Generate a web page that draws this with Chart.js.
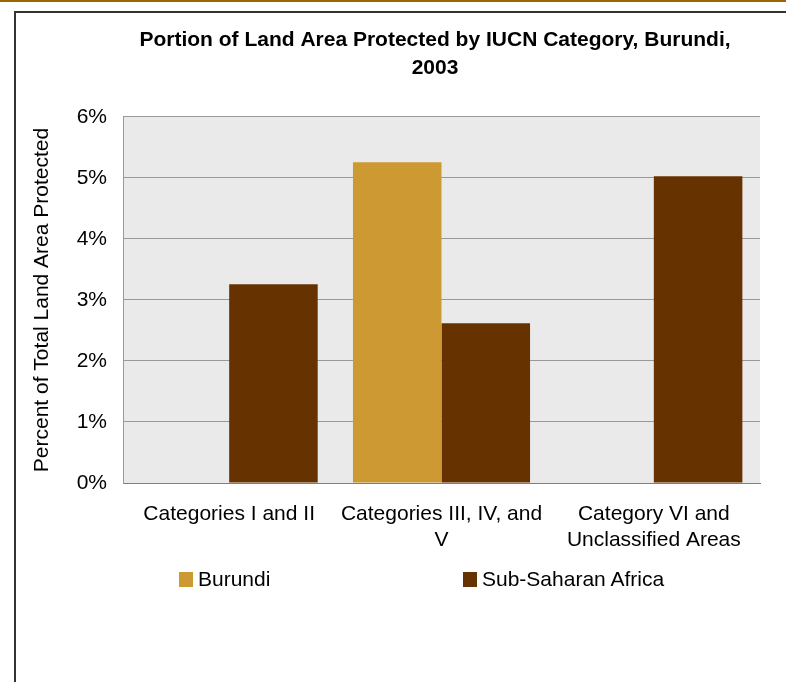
<!DOCTYPE html>
<html>
<head>
<meta charset="utf-8">
<script src="https://cdn.jsdelivr.net/npm/chart.js@4/dist/chart.umd.min.js"></script>
<style>
  html, body { margin: 0; padding: 0; background: #fff; overflow: hidden; }
  #topline { position: absolute; left: 0; top: 0; width: 786px; height: 2px; background: #996600; }
  #frame { position: absolute; left: 14px; top: 11px; width: 770px; height: 669px;
           border-left: 2px solid #333; border-top: 2px solid #333; }
  #frame canvas { position: absolute; left: 0; top: 0; }
  #legend { position: absolute; left: 179px; top: 567px; display: flex;
            font: 21px 'Liberation Sans', Arial, sans-serif; color: #000; }
  #legend .item { display: flex; align-items: center; height: 24px; }
  #legend .item:first-child { width: 284px; }
  #legend .box { width: 14px; height: 15px; margin-right: 5px; }
</style>
</head>
<body>
<div id="topline"></div>
<div id="frame"><canvas id="chart" width="770" height="669"></canvas></div>
<div id="legend"></div>
<script>
const categories = [
  ['Categories I and II'],
  ['Categories III, IV, and', 'V'],
  ['Category VI and', 'Unclassified Areas']
];
const burundi = [0, 5.26, 0];
const subSaharanAfrica = [3.26, 2.62, 5.03];
const yTickLabels = ['0%', '1%', '2%', '3%', '4%', '5%', '6%'];

Chart.defaults.font.family = "'Liberation Sans', Arial, sans-serif";
Chart.defaults.font.size = 21;
Chart.defaults.color = '#000';

// grey plot area like the original spreadsheet chart
const plotBackground = {
  id: 'plotBackground',
  beforeDraw(chart) {
    const { ctx, chartArea: a } = chart;
    ctx.save();
    ctx.fillStyle = '#eaeaea';
    ctx.fillRect(a.left, a.top, a.width, a.height);
    ctx.restore();
  }
};

// the title in the original sits a bit left of the plot centre
const titleCenter = {
  id: 'titleCenter',
  afterLayout(chart) {
    const t = chart.titleBlock;
    const dx = 419 - (t.left + t.right) / 2;
    t.left += dx;
    t.right += dx;
  }
};

const chart = new Chart(document.getElementById('chart'), {
  type: 'bar',
  data: {
    labels: categories,
    datasets: [{
      label: 'Burundi',
      data: burundi,
      backgroundColor: '#cc9933',
      borderWidth: 0
    }, {
      label: 'Sub-Saharan Africa',
      data: subSaharanAfrica,
      backgroundColor: '#663300',
      borderWidth: 0
    }]
  },
  options: {
    responsive: false,
    animation: false,
    datasets: {
      bar: { barPercentage: 1, categoryPercentage: 0.834 }
    },
    layout: { padding: { left: 0, right: 26, top: 0, bottom: 129 } },
    plugins: {
      legend: { display: false },
      tooltip: { enabled: false },
      title: {
        display: true,
        text: ['Portion of Land Area Protected by IUCN Category, Burundi,', '2003'],
        font: { size: 21, weight: 'bold', lineHeight: 1.3333 },
        color: '#000',
        padding: { top: 13.7, bottom: 34.3 }
      }
    },
    scales: {
      x: {
        grid: { display: false, drawTicks: false },
        border: { display: true, color: '#7f7f7f', width: 1 },
        ticks: { padding: 19, maxRotation: 0, autoSkip: false, color: '#000' },
        afterFit(scale) { scale.height = 70; }
      },
      y: {
        min: 0,
        max: 6,
        grid: { color: '#999', drawTicks: false },
        border: { display: true, color: '#999', width: 1 },
        ticks: {
          stepSize: 1,
          padding: 16,
          color: '#000',
          callback: (v, i) => yTickLabels[i]
        },
        title: {
          display: true,
          text: 'Percent of Total Land Area Protected',
          color: '#000',
          font: { size: 21 },
          padding: { top: 13.4, bottom: 0 }
        },
        afterFit(scale) { scale.width = 107; }
      }
    }
  },
  plugins: [plotBackground, titleCenter]
});

// legend built from the chart's datasets
const legend = document.getElementById('legend');
chart.data.datasets.forEach(ds => {
  const item = document.createElement('div');
  item.className = 'item';
  const box = document.createElement('span');
  box.className = 'box';
  box.style.background = ds.backgroundColor;
  const txt = document.createElement('span');
  txt.textContent = ds.label;
  item.appendChild(box);
  item.appendChild(txt);
  legend.appendChild(item);
});
</script>
</body>
</html>
